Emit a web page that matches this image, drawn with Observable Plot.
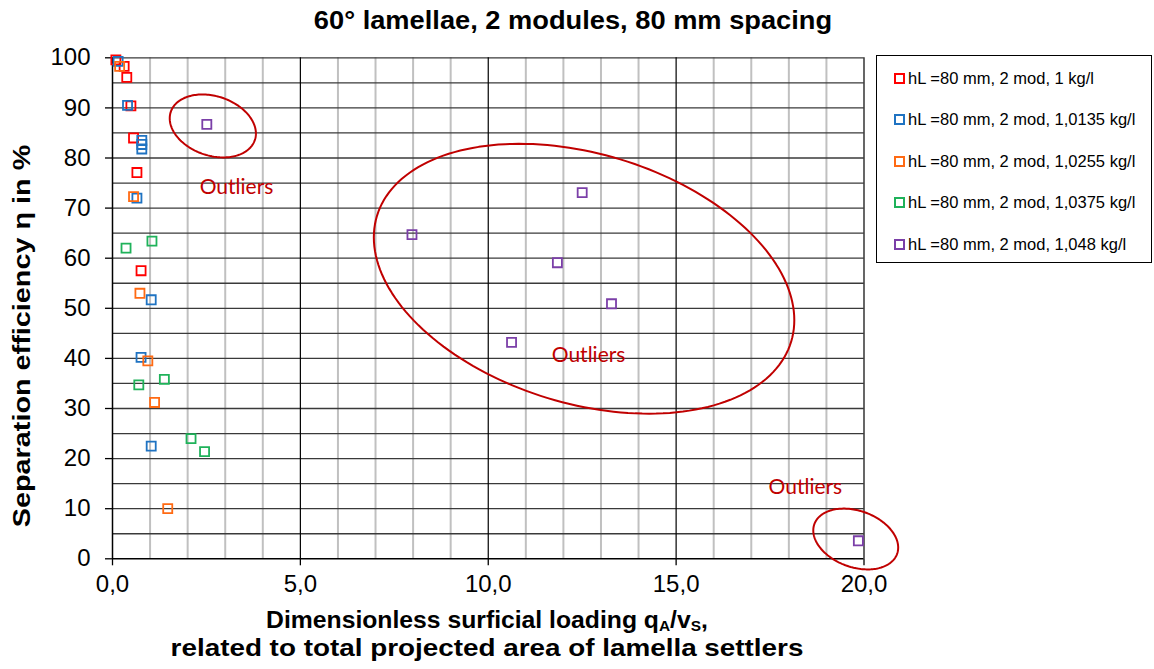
<!DOCTYPE html>
<html>
<head>
<meta charset="utf-8">
<script src="https://cdn.jsdelivr.net/npm/d3@7"></script>
<script src="https://cdn.jsdelivr.net/npm/@observablehq/plot@0.6"></script>
<style>
  body { margin: 0; background: #fff; }
  #wrap { position: relative; width: 1154px; height: 669px; overflow: hidden; font-family: "Liberation Sans", Arial, sans-serif; color: #000; }
  #chart { position: absolute; left: 0; top: 0; }
  .title { position: absolute; left: 573px; top: 6px; transform: translateX(-50%) scaleX(1.09); white-space: nowrap; font-weight: bold; font-size: 25px; }
  .xl { position: absolute; left: 487px; white-space: nowrap; font-weight: bold; font-size: 24px; line-height: 24px; }
  .xl1 { top: 608px; transform: translateX(-50%) scaleX(1.03); }
  .xl2 { top: 636px; transform: translateX(-50%) scaleX(1.16); }
  .xl sub { font-size: 15px; line-height: 1; vertical-align: baseline; position: relative; top: 3px; }
  .ylabel { position: absolute; left: 22px; top: 336px; transform: translate(-50%, -50%) rotate(-90deg) scaleX(1.2); white-space: nowrap; font-weight: bold; font-size: 24px; }
  .legend { position: absolute; left: 876px; top: 55px; width: 276px; height: 208px; border: 1.5px solid #000; box-sizing: border-box; background: #fff; }
  .legend .row { position: absolute; left: 17px; height: 20px; display: flex; align-items: center; font-size: 16.5px; white-space: nowrap; }
  .legend .sw { width: 7px; height: 7px; border: 2px solid; margin-right: 3px; }
</style>
</head>
<body>
<div id="wrap">
  <div id="chart"></div>
  <div class="title">60° lamellae, 2 modules, 80 mm spacing</div>
  <div class="ylabel">Separation efficiency η in %</div>
  <div class="xl xl1">Dimensionless surficial loading q<sub>A</sub>/v<sub>S</sub>,</div>
  <div class="xl xl2">related to total projected area of lamella settlers</div>
  <div class="legend" id="legend"></div>
</div>
<script>
// ---- data ----
const seriesNames = [
  "hL =80 mm, 2 mod, 1 kg/l",
  "hL =80 mm, 2 mod, 1,0135 kg/l",
  "hL =80 mm, 2 mod, 1,0255 kg/l",
  "hL =80 mm, 2 mod, 1,0375 kg/l",
  "hL =80 mm, 2 mod, 1,048 kg/l"
];
const seriesColors = ["#ff0000", "#1f73c2", "#ff6a13", "#1fb25a", "#7b3fa8"];

const x1000 = [0.09, 0.31, 0.38, 0.49, 0.56, 0.65, 0.76];
const y1000 = [99.6, 98.3, 96.1, 90.4, 84.0, 77.1, 57.5];

const x1013 = [0.15, 0.40, 0.78, 0.78, 0.78, 0.65, 1.03, 0.76, 1.03];
const y1013 = [99.3, 90.5, 83.5, 82.7, 81.8, 72.0, 51.7, 40.2, 22.5];

const x1025 = [0.19, 0.56, 0.73, 0.94, 1.12, 1.47];
const y1025 = [98.3, 72.3, 53.0, 39.5, 31.2, 10.0];

const x1037 = [0.36, 1.05, 0.70, 1.38, 2.09, 2.45];
const y1037 = [62.0, 63.4, 34.7, 35.8, 24.0, 21.4];

const x1048 = [2.51, 7.97, 12.50, 11.84, 13.28, 10.62, 19.85];
const y1048 = [86.7, 64.7, 73.1, 59.1, 50.9, 43.2, 3.6];

const xTicks = [0, 5, 10, 15, 20];
const yTicks = [0, 10, 20, 30, 40, 50, 60, 70, 80, 90, 100];

// annotations: ellipse centre (data), semi-axes (in x-units), clockwise tilt (deg)
const ellipseCx = [2.67, 12.55, 19.78];
const ellipseCy = [86.4, 55.9, 3.95];
const ellipseA = [1.18, 5.76, 1.17];
const ellipseB = [0.79, 3.32, 0.75];
const ellipseTilt = [18.5, 16.9, 19.8];

const outlierX = [3.30, 12.67, 18.44];
const outlierY = [74.2, 40.6, 14.3];
const outlierText = ["Outliers", "Outliers", "Outliers"];

// ---- build tables ----
const xs = [x1000, x1013, x1025, x1037, x1048];
const ys = [y1000, y1013, y1025, y1037, y1048];
const points = [];
xs.forEach((arr, s) => arr.forEach((x, i) => points.push({x, y: ys[s][i], s: seriesNames[s]})));

const W = 1154, H = 669, mL = 112, mR = 290.5, mT = 57.3, mB = 110.7;
const xDomain = [0, 20], yDomain = [0, 100];
const pxPerX = (W - mL - mR) / (xDomain[1] - xDomain[0]);
const pxPerY = (H - mT - mB) / (yDomain[1] - yDomain[0]);

const ellipsePts = [];
ellipseCx.forEach((cx, e) => {
  const a = ellipseA[e] * pxPerX, b = ellipseB[e] * pxPerX, th = ellipseTilt[e] * Math.PI / 180;
  for (let k = 0; k <= 180; k++) {
    const t = k / 180 * 2 * Math.PI;
    const dx = a * Math.cos(t) * Math.cos(th) - b * Math.sin(t) * Math.sin(th);
    const dy = a * Math.cos(t) * Math.sin(th) + b * Math.sin(t) * Math.cos(th);
    ellipsePts.push({e, x: cx + dx / pxPerX, y: ellipseCy[e] - dy / pxPerY});
  }
});
const outliers = outlierX.map((x, i) => ({x, y: outlierY[i], t: outlierText[i]}));

const minorX = d3.range(1, 20).filter(v => v % 5 !== 0);
const majorX = [5, 10, 15, 20];
const gridY = d3.range(5, 101, 5);

const chart = Plot.plot({
  width: W, height: H,
  marginLeft: mL, marginRight: mR, marginTop: mT, marginBottom: mB,
  style: {fontFamily: '"Liberation Sans", Arial, sans-serif', fontSize: "24px", color: "#000", background: "transparent", overflow: "visible"},
  x: {domain: xDomain, label: null},
  y: {domain: yDomain, label: null},
  color: {domain: seriesNames, range: seriesColors},
  marks: [
    Plot.ruleX(minorX, {stroke: "#c0c0c0", strokeWidth: 2}),
    Plot.ruleY(gridY, {stroke: "#3a3a3a", strokeWidth: 1.3}),
    Plot.ruleX(majorX, {stroke: "#000", strokeWidth: 1.2}),
    Plot.ruleX([0], {stroke: "#000", strokeWidth: 1.5}),
    Plot.ruleY([0], {stroke: "#000", strokeWidth: 1.5}),
    Plot.axisX({ticks: xTicks, tickFormat: d => d.toFixed(1).replace(".", ","), tickSize: 7, tickPadding: 9, fontSize: 24, label: null, strokeWidth: 1.3}),
    Plot.axisY({ticks: yTicks, tickFormat: d => String(d), tickSize: 7, tickPadding: 15, fontSize: 24, label: null, strokeWidth: 1.3}),
    Plot.line(ellipsePts, {x: "x", y: "y", z: "e", stroke: "#c00000", strokeWidth: 2, curve: "linear"}),
    Plot.text(outliers, {x: "x", y: "y", text: "t", fill: "#c00000", fontSize: 21, fontFamily: "Lato, 'Open Sans', sans-serif"}),
    Plot.dot(points, {x: "x", y: "y", stroke: "s", symbol: "square", r: 5.1, strokeWidth: 1.8, fill: "none"})
  ]
});
document.getElementById("chart").appendChild(chart);

// legend
const leg = document.getElementById("legend");
seriesNames.forEach((n, i) => {
  const row = document.createElement("div");
  row.className = "row";
  row.style.top = (12 + i * 41.5) + "px";
  const sw = document.createElement("span");
  sw.className = "sw";
  sw.style.borderColor = seriesColors[i];
  const tx = document.createElement("span");
  tx.textContent = n;
  row.appendChild(sw); row.appendChild(tx);
  leg.appendChild(row);
});
</script>
</body>
</html>
